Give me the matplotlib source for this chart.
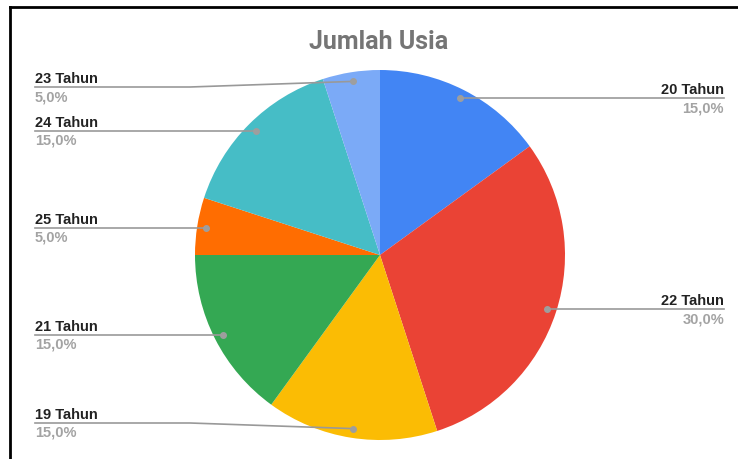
import matplotlib.pyplot as plt
import numpy as np
from matplotlib.lines import Line2D

labels = ['20 Tahun', '22 Tahun', '19 Tahun', '21 Tahun', '25 Tahun', '24 Tahun', '23 Tahun']
values = [15, 30, 15, 15, 5, 15, 5]
colors = ['#4285F4', '#EA4335', '#FBBC04', '#34A853', '#FF6D01', '#46BDC6', '#7BAAF7']

W, H = 738, 460
cx, cy, R = 380, H - 256, 185

fig = plt.figure(figsize=(W / 100, H / 100), dpi=100)
ax = fig.add_axes([0, 0, 1, 1])

wedges, _ = ax.pie(values, colors=colors, startangle=90, counterclock=False,
                   center=(cx, cy), radius=R, wedgeprops=dict(linewidth=0))
ax.set_xlim(0, W)
ax.set_ylim(0, H)
ax.set_aspect('equal')
ax.axis('off')

total = sum(values)
pct = [v / total * 100 for v in values]
lab_font = ['Liberation Sans', 'DejaVu Sans']

for w, lab, p in zip(wedges, labels, pct):
    mid = np.deg2rad((w.theta1 + w.theta2) / 2)
    dx = cx + 0.95 * R * np.cos(mid)
    dy = cy + 0.95 * R * np.sin(mid)
    # keep labels inside the chart area
    ly = min(max(dy, H - 424), H - 88)
    right = np.cos(mid) > 0
    tx = 724 if right else 35
    if abs(ly - dy) > 0.5:
        bx = 560 if right else 190
        ax.plot([tx, bx, dx], [ly, ly, dy], color='#999999', lw=1.2, zorder=3)
    else:
        ax.plot([tx, dx], [ly, dy], color='#999999', lw=1.2, zorder=3)
    ax.plot(dx, dy, 'o', color='#9e9e9e', ms=4, zorder=4)
    ha = 'right' if right else 'left'
    ax.text(tx, ly + 2, lab, ha=ha, va='bottom', fontsize=10.5, fontweight='bold',
            color='#222222', family=lab_font)
    ax.text(tx, ly - 2, f'{p:.1f}%'.replace('.', ','), ha=ha, va='top', fontsize=10.5,
            fontweight='bold', color='#a3a3a3', family=lab_font)

ax.text(379, H - 42, 'Jumlah Usia', ha='center', va='center', fontsize=18,
        fontweight='bold', color='#757575', family=['Roboto', 'DejaVu Sans'])

# screenshot frame
fig.add_artist(Line2D([10 / W, 10 / W], [0, 1 - 8 / H], color='black', lw=2))
fig.add_artist(Line2D([10 / W, 1], [1 - 8 / H, 1 - 8 / H], color='black', lw=2))

fig.savefig('out.png', dpi=100)
